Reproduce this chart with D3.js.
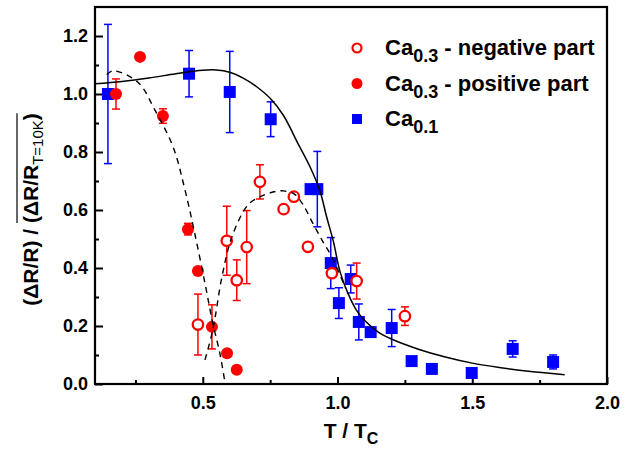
<!DOCTYPE html>
<html>
<head>
<meta charset="utf-8">
<script src="https://cdnjs.cloudflare.com/ajax/libs/d3/7.8.5/d3.min.js"></script>
<style>
  body { margin: 0; background: #fff; }
  text { font-family: Arial, "Liberation Sans", sans-serif; }
</style>
</head>
<body>
<div id="plot-area"></div>
<script>
// Normalised dR/R vs T/Tc for Ca0.1 and Ca0.3

// Ca0.1 (blue squares)
const ca01T = [0.148, 0.449, 0.60, 0.752, 0.90, 0.925, 0.975, 1.005, 1.049, 1.079, 1.123, 1.201, 1.275, 1.35, 1.498, 1.65, 1.80];
const ca01Y = [1.00, 1.07, 1.007, 0.913, 0.672, 0.672, 0.417, 0.279, 0.362, 0.214, 0.179, 0.193, 0.079, 0.052, 0.038, 0.121, 0.076];
const ca01Err = [0.24, 0.08, 0.14, 0.06, 0, 0.13, 0.088, 0.053, 0.048, 0.062, 0.01, 0.064, 0, 0, 0, 0.028, 0.024];

// Ca0.3 positive part (filled red circles)
const posT = [0.178, 0.267, 0.352, 0.445, 0.482, 0.534, 0.59, 0.626];
const posY = [1.00, 1.128, 0.924, 0.534, 0.39, 0.197, 0.106, 0.049];
const posErr = [0.052, 0, 0.025, 0.02, 0, 0.076, 0, 0];

// Ca0.3 negative part (open red circles)
const negT = [0.482, 0.589, 0.626, 0.663, 0.712, 0.80, 0.838, 0.89, 0.979, 1.071, 1.25];
const negY = [0.205, 0.494, 0.358, 0.472, 0.697, 0.603, 0.646, 0.473, 0.382, 0.355, 0.234];
const negErr = [0.105, 0.119, 0.07, 0.126, 0.059, 0, 0, 0.01, 0.01, 0.062, 0.032];

// Guide curves
const fitSolidT = [0.10, 0.2, 0.3, 0.4, 0.5, 0.55, 0.6, 0.65, 0.7, 0.75, 0.8, 0.85, 0.9, 0.935, 0.96, 0.985, 1.01, 1.04, 1.07, 1.1, 1.15, 1.2, 1.3, 1.4, 1.5, 1.6, 1.7, 1.843];
const fitSolidY = [1.035, 1.043, 1.055, 1.07, 1.082, 1.083, 1.075, 1.055, 1.025, 0.985, 0.925, 0.835, 0.745, 0.665, 0.575, 0.49, 0.385, 0.31, 0.255, 0.22, 0.18, 0.155, 0.12, 0.093, 0.072, 0.057, 0.045, 0.032];

const fitPosT = [0.144, 0.167, 0.26, 0.322, 0.39, 0.434, 0.47, 0.508, 0.537, 0.563, 0.582];
const fitPosY = [1.066, 1.08, 1.04, 0.945, 0.817, 0.669, 0.52, 0.348, 0.21, 0.107, 0.007];

const fitNegT = [0.508, 0.537, 0.571, 0.608, 0.667, 0.712, 0.76, 0.80, 0.84, 0.871, 0.908, 0.945, 0.979, 1.03];
const fitNegY = [0.083, 0.186, 0.369, 0.507, 0.617, 0.645, 0.662, 0.666, 0.655, 0.62, 0.555, 0.492, 0.438, 0.33];

// Ticks
const xMajor = [0.5, 1.0, 1.5, 2.0];
const xMinor = [0.25, 0.75, 1.25, 1.75];
const yMajor = [0.0, 0.2, 0.4, 0.6, 0.8, 1.0, 1.2];
const yMinor = [0.1, 0.3, 0.5, 0.7, 0.9, 1.1];

const legendLabels = [
  { sub: "0.3", rest: " - negative part", kind: "open" },
  { sub: "0.3", rest: " - positive part", kind: "filled" },
  { sub: "0.1", rest: "", kind: "square" }
];

const W = 633, H = 451;
const m = { top: 7, right: 26, bottom: 67, left: 95 };

const svg = d3.select("#plot-area").
append("svg").
attr("width", W).
attr("height", H);

const x = d3.scaleLinear().
domain([0.1, 2.0]).
range([m.left, W - m.right]);

const y = d3.scaleLinear().
domain([0, 1.3]).
range([H - m.bottom, m.top]);

const blue = "#0000ff", red = "#ff0000";

// axes, ticks point inwards
const xAxis = svg.append("g").
attr("transform", `translate(0 ${H - m.bottom})`).
call(d3.axisBottom(x).tickValues(xMajor).tickSize(-7).tickPadding(12).tickFormat(d3.format(".1f")));

svg.append("g").
attr("transform", `translate(0 ${H - m.bottom})`).
call(d3.axisBottom(x).tickValues(xMinor).tickSize(-4).tickFormat(""));

const yAxis = svg.append("g").
attr("transform", `translate(${m.left} 0)`).
call(d3.axisLeft(y).tickValues(yMajor).tickSize(-8).tickPadding(7).tickFormat(d3.format(".1f")));

svg.append("g").
attr("transform", `translate(${m.left} 0)`).
call(d3.axisLeft(y).tickValues(yMinor).tickSize(-4).tickFormat(""));

svg.selectAll(".domain").remove();
svg.selectAll(".tick line").attr("stroke", "#000").attr("stroke-width", 2);
svg.selectAll(".tick text").
attr("fill", "#000").
style("font-size", "18px").
style("font-weight", "bold");

// frame
svg.append("rect").
attr("x", x(0.1)).
attr("y", y(1.3)).
attr("width", x(2.0) - x(0.1)).
attr("height", y(0) - y(1.3)).
attr("fill", "none").
attr("stroke", "#000").
attr("stroke-width", 2.2);

// helpers
function zip(t, v, e) {
  return t.map((d, i) => ({ t: d, v: v[i], e: e ? e[i] : 0 }));
}

function errorBars(data, color) {
  const g = svg.append("g").
  attr("stroke", color).
  attr("stroke-width", 1.5).
  attr("fill", "none");
  const withErr = data.filter(d => d.e > 0);
  g.selectAll(".bar").
  data(withErr).
  join("line").
  attr("x1", d => x(d.t)).attr("x2", d => x(d.t)).
  attr("y1", d => y(d.v + d.e)).attr("y2", d => y(d.v - d.e));
  [1, -1].forEach(s => {
    g.selectAll(null).
    data(withErr).
    join("line").
    attr("x1", d => x(d.t) - 4).attr("x2", d => x(d.t) + 4).
    attr("y1", d => y(d.v + s * d.e)).attr("y2", d => y(d.v + s * d.e));
  });
}

const ca01 = zip(ca01T, ca01Y, ca01Err);
const pos = zip(posT, posY, posErr);
const neg = zip(negT, negY, negErr);

// Ca0.1 squares
errorBars(ca01, blue);
svg.append("g").
selectAll("rect").
data(ca01).
join("rect").
attr("x", d => x(d.t) - 6).
attr("y", d => y(d.v) - 6).
attr("width", 12).
attr("height", 12).
attr("fill", blue);

// Ca0.3 positive
errorBars(pos, red);
svg.append("g").
selectAll("circle").
data(pos).
join("circle").
attr("cx", d => x(d.t)).
attr("cy", d => y(d.v)).
attr("r", 6).
attr("fill", red);

// Ca0.3 negative
errorBars(neg, red);
svg.append("g").
selectAll("circle").
data(neg).
join("circle").
attr("cx", d => x(d.t)).
attr("cy", d => y(d.v)).
attr("r", 5.2).
attr("fill", "#fff").
attr("stroke", red).
attr("stroke-width", 2.3);

// guide curves
const line = d3.line().
x(d => x(d.t)).
y(d => y(d.v)).
curve(d3.curveCatmullRom);

svg.append("path").
attr("d", line(zip(fitSolidT, fitSolidY))).
attr("fill", "none").
attr("stroke", "#000").
attr("stroke-width", 1.5);

[zip(fitPosT, fitPosY), zip(fitNegT, fitNegY)].forEach(c => {
  svg.append("path").
  attr("d", line(c)).
  attr("fill", "none").
  attr("stroke", "#000").
  attr("stroke-width", 1.4).
  attr("stroke-dasharray", "6,5");
});

// legend
const legend = svg.append("g").
attr("transform", "translate(357 48)");

legendLabels.forEach((l, i) => {
  const row = legend.append("g").attr("transform", `translate(0 ${i * 35.5})`);
  if (l.kind === "open") {
    row.append("circle").attr("r", 4.5).attr("fill", "#fff").attr("stroke", red).attr("stroke-width", 2.2);
  } else if (l.kind === "filled") {
    row.append("circle").attr("r", 5.5).attr("fill", red);
  } else {
    row.append("rect").attr("x", -5).attr("y", -5).attr("width", 10).attr("height", 10).attr("fill", blue);
  }
  const t = row.append("text").
  attr("x", 28).
  attr("y", 7).
  style("font-size", "22px").
  style("font-weight", "bold");
  t.append("tspan").text("Ca");
  t.append("tspan").attr("dy", 7).style("font-size", "18px").text(l.sub);
  if (l.rest) t.append("tspan").attr("dy", -7).text(l.rest);
});

// x title
const xt = svg.append("text").
attr("x", (x(0.1) + x(2.0)) / 2).
attr("y", 438).
attr("text-anchor", "middle").
style("font-size", "21px").
style("font-weight", "bold");
xt.append("tspan").text("T / T");
xt.append("tspan").attr("dy", 6).style("font-size", "16px").text("C");

// y title
const yg = svg.append("g").
attr("transform", `translate(38 ${(y(0) + y(1.3)) / 2 + 14}) rotate(-90)`);
const yt = yg.append("text").
attr("text-anchor", "middle").
style("font-size", "21px").
style("font-weight", "bold");
yt.append("tspan").text("(\u0394R/R) / (\u0394R/R");
yt.append("tspan").attr("dy", 5).style("font-size", "15px").style("font-weight", "normal").text("T=10K");
yt.append("tspan").attr("dy", -5).text(")");

// overline over the denominator
const n = yt.node();
const x0 = n.getStartPositionOfChar(9).x;
const x1 = n.getEndPositionOfChar(n.getNumberOfChars() - 1).x;
yg.append("line").
attr("x1", x0).attr("x2", x1).
attr("y1", -21).attr("y2", -21).
attr("stroke", "#000").
attr("stroke-width", 1.2);
</script>
</body>
</html>
